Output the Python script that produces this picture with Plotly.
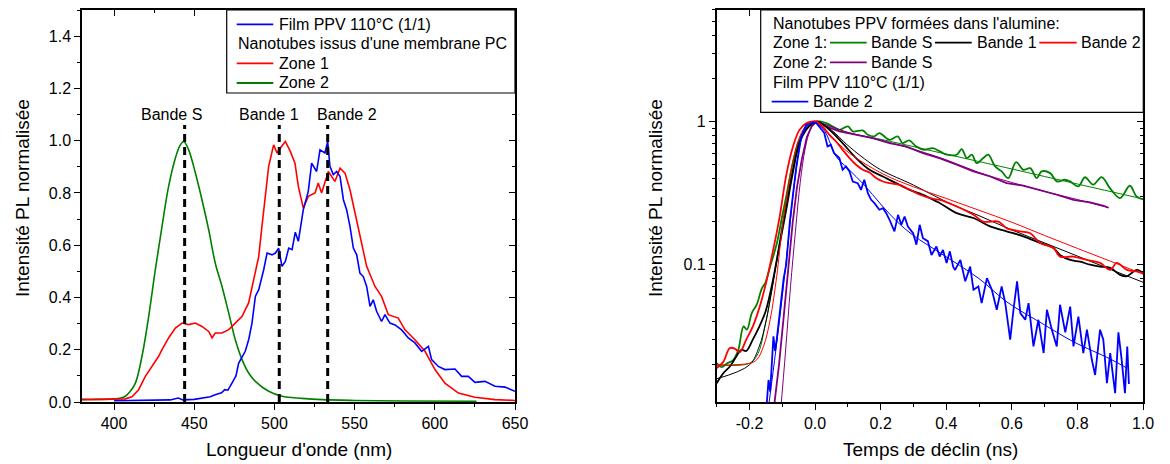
import plotly.graph_objects as go

FONT = "Liberation Sans, Arial, sans-serif"

# ===================== Left panel: PL spectra =====================
film_wl = [400, 407, 415, 425, 435, 440, 443, 450, 455, 460,
           463, 467, 469, 471, 473.5, 476, 477.7, 480, 481.8, 484,
           486, 488.1, 490.2, 493.3, 495.4, 498.5, 500.6, 502.6, 504.7, 506.8,
           508.9, 511, 513, 514.9, 517.2, 518, 521.1, 523.2, 526.3, 528.4,
           531.5, 533.2, 534.6, 536.7, 538.8, 540.9, 543, 545, 547.1, 549.2,
           551.3, 553.3, 555.4, 557.5, 559.6, 561.6, 563.7, 566.8, 568.9, 572,
           575.2, 579.3, 583.5, 587.6, 591.8, 596, 598, 602.2, 606.3, 612.6,
           616.7, 620.9, 625, 631.3, 637.5, 643.7, 650]
film_pl = [0.005, 0.006, 0.006, 0.007, 0.008, 0.015, 0.008, 0.010, 0.015, 0.020,
           0.028, 0.035, 0.047, 0.045, 0.072, 0.10, 0.149, 0.175, 0.194, 0.24,
           0.302, 0.404, 0.43, 0.506, 0.57, 0.563, 0.57, 0.589, 0.519, 0.538,
           0.589, 0.583, 0.65, 0.615, 0.717, 0.736, 0.806, 0.914, 0.882, 0.965,
           0.953, 0.997, 0.902, 0.87, 0.882, 0.863, 0.774, 0.736, 0.672, 0.589,
           0.563, 0.493, 0.48, 0.442, 0.366, 0.391, 0.347, 0.308, 0.334, 0.302,
           0.295, 0.276, 0.245, 0.226, 0.194, 0.213, 0.162, 0.136, 0.124, 0.126,
           0.098, 0.098, 0.075, 0.079, 0.06, 0.057, 0.041]

zone1_wl = [380, 390, 400, 407, 411.2, 415.3, 419.5, 423.6, 427.8, 429.9,
            434, 438.2, 442.4, 446.5, 450.7, 454.8, 459, 461.1, 463.1, 467.3,
            471.5, 475.6, 479.8, 483.9, 488.1, 490.2, 492.2, 494.3, 496.4, 499.5,
            501.6, 503.7, 506.8, 509.9, 512.8, 514.9, 518, 521.1, 525.3, 527.3,
            529.4, 533.6, 537.7, 540.9, 544, 547.1, 550.2, 554.4, 557.5, 562.7,
            566.8, 571, 577.2, 581.4, 587.6, 593.9, 600.1, 606.3, 614.7, 625,
            637.5, 650]
zone1_pl = [0.009, 0.010, 0.010, 0.012, 0.02, 0.047, 0.098, 0.136, 0.175, 0.2,
            0.245, 0.283, 0.302, 0.296, 0.302, 0.289, 0.27, 0.245, 0.264, 0.264,
            0.277, 0.302, 0.328, 0.379, 0.506, 0.557, 0.672, 0.787, 0.902, 0.984,
            0.953, 0.972, 0.997, 0.959, 0.914, 0.825, 0.742, 0.787, 0.8, 0.838,
            0.8, 0.882, 0.844, 0.895, 0.876, 0.812, 0.723, 0.608, 0.519, 0.442,
            0.404, 0.334, 0.321, 0.276, 0.238, 0.194, 0.124, 0.072, 0.034, 0.018,
            0.009, 0.006]

zone2_wl = [380, 390, 400, 404, 407, 410, 413.3, 417.4, 421.6, 425.7,
            429.9, 434, 438.2, 441, 443.4, 446.5, 450.7, 454.8, 459, 463.1,
            467.3, 471.5, 475.6, 479.8, 483.9, 488.1, 496.4, 504.7, 517.2, 530,
            550, 580, 626]
zone2_pl = [0.010, 0.010, 0.012, 0.015, 0.022, 0.04, 0.072, 0.175, 0.328, 0.506,
            0.672, 0.825, 0.933, 0.98, 0.997, 0.965, 0.876, 0.774, 0.659, 0.531,
            0.442, 0.34, 0.238, 0.162, 0.111, 0.079, 0.041, 0.022, 0.014, 0.009,
            0.006, 0.004, 0.003]

band_names = ["Bande S", "Bande 1", "Bande 2"]
band_wl = [444.0, 503.0, 533.2]
band_top = 1.06
band_label_y = 1.10

# ===================== Right panel: PL decays =====================
z1s_t = [-0.3, -0.285, -0.27, -0.249, -0.234, -0.218, -0.208, -0.193, -0.178, -0.162,
         -0.152, -0.137, -0.117, -0.1, -0.088, -0.068, -0.048, -0.027, -0.007, 0.013,
         0.034, 0.054, 0.074, 0.1, 0.115, 0.145, 0.161, 0.181, 0.196, 0.227,
         0.252, 0.267, 0.287, 0.308, 0.333, 0.359, 0.381, 0.402, 0.432, 0.447,
         0.463, 0.478, 0.493, 0.513, 0.528, 0.549, 0.569, 0.589, 0.613, 0.635,
         0.656, 0.676, 0.691, 0.717, 0.737, 0.762, 0.777, 0.803, 0.823, 0.848,
         0.874, 0.899, 0.93, 0.96, 0.98, 1.0]
z1s_v = [0.0206, 0.0193, 0.0204, 0.0217, 0.0255, 0.0371, 0.0352, 0.046, 0.0526, 0.0687,
         0.0745, 0.0973, 0.14, 0.22, 0.30, 0.512, 0.745, 0.898, 0.963, 1.0,
         0.974, 0.923, 0.875, 0.923, 0.852, 0.866, 0.807, 0.787, 0.83, 0.745,
         0.787, 0.706, 0.737, 0.67, 0.635, 0.652, 0.618, 0.586, 0.586, 0.641,
         0.555, 0.586, 0.512, 0.555, 0.586, 0.486, 0.448, 0.402, 0.52, 0.46,
         0.472, 0.402, 0.448, 0.436, 0.382, 0.392, 0.382, 0.352, 0.408, 0.362,
         0.409, 0.343, 0.292, 0.356, 0.30, 0.286]
z1s_fit_t = [-0.3, -0.2, -0.174, -0.153, -0.132, -0.111, -0.098, -0.077, -0.057, -0.037,
             -0.016, 0.004, 0.03, 0.105, 0.207, 0.409, 0.6, 0.8, 1.0]
z1s_fit_v = [0.02, 0.0205, 0.024, 0.037, 0.067, 0.134, 0.206, 0.371, 0.601, 0.807,
             0.933, 0.984, 0.95, 0.83, 0.745, 0.585, 0.466, 0.366, 0.288]

z2s_t = [-0.128, -0.11, -0.095, -0.08, -0.068, -0.055, -0.04, -0.025, -0.01, 0.005,
         0.034, 0.074, 0.125, 0.176, 0.227, 0.277, 0.329, 0.379, 0.432, 0.483,
         0.534, 0.584, 0.635, 0.686, 0.737, 0.788, 0.839, 0.88, 0.895]
z2s_v = [0.009, 0.02, 0.045, 0.1, 0.2, 0.35, 0.55, 0.78, 0.93, 1.0,
         0.923, 0.852, 0.807, 0.765, 0.706, 0.67, 0.601, 0.555, 0.499, 0.448,
         0.413, 0.371, 0.356, 0.333, 0.308, 0.284, 0.272, 0.258, 0.25]
z2s_fit_t = [-0.106, -0.09, -0.075, -0.06, -0.045, -0.03, -0.015, 0.0, 0.02, 0.1,
             0.2, 0.3, 0.4, 0.5, 0.6, 0.7, 0.8, 0.895]
z2s_fit_v = [0.009, 0.025, 0.07, 0.17, 0.38, 0.65, 0.87, 0.97, 0.97, 0.84,
             0.74, 0.64, 0.54, 0.44, 0.375, 0.325, 0.285, 0.25]

z1b1_t = [-0.3, -0.28, -0.26, -0.24, -0.225, -0.21, -0.19, -0.17, -0.15, -0.13,
          -0.109, -0.088, -0.068, -0.048, -0.027, -0.007, 0.008, 0.044, 0.084, 0.125,
          0.166, 0.207, 0.247, 0.288, 0.329, 0.37, 0.381, 0.432, 0.483, 0.534,
          0.584, 0.635, 0.686, 0.727, 0.747, 0.778, 0.808, 0.839, 0.869, 0.9,
          0.93, 0.95, 0.981, 1.0]
z1b1_v = [0.0149, 0.0175, 0.0195, 0.0229, 0.0255, 0.025, 0.03, 0.037, 0.048, 0.075,
          0.135, 0.242, 0.436, 0.706, 0.875, 0.973, 1.0, 0.875, 0.706, 0.555,
          0.46, 0.413, 0.371, 0.333, 0.308, 0.277, 0.269, 0.229, 0.212, 0.185,
          0.171, 0.158, 0.142, 0.131, 0.117, 0.108, 0.105, 0.1, 0.097, 0.095,
          0.085, 0.083, 0.092, 0.087]
z1b1_fit_t = [-0.3, -0.2, -0.17, -0.15, -0.13, -0.11, -0.09, -0.07, -0.05, -0.03,
              -0.01, 0.005, 0.05, 0.1, 0.15, 0.2, 0.3, 0.4, 0.5, 0.6,
              0.7, 0.8, 0.9, 1.0]
z1b1_fit_v = [0.016, 0.02, 0.027, 0.04, 0.07, 0.13, 0.24, 0.43, 0.68, 0.87,
              0.97, 1.0, 0.87, 0.68, 0.55, 0.46, 0.36, 0.275, 0.22, 0.175,
              0.142, 0.115, 0.093, 0.0755]

z1b2_t = [-0.3, -0.28, -0.26, -0.245, -0.23, -0.21, -0.19, -0.17, -0.15, -0.13,
          -0.109, -0.088, -0.068, -0.048, -0.027, -0.007, 0.003, 0.023, 0.044, 0.064,
          0.084, 0.105, 0.125, 0.146, 0.166, 0.186, 0.207, 0.227, 0.26, 0.28,
          0.32, 0.361, 0.381, 0.432, 0.483, 0.513, 0.559, 0.584, 0.625, 0.656,
          0.686, 0.727, 0.747, 0.788, 0.829, 0.869, 0.9, 0.92, 0.951, 0.981,
          1.0]
z1b2_v = [0.019, 0.021, 0.0262, 0.026, 0.0245, 0.03, 0.037, 0.05, 0.074, 0.12,
          0.21, 0.42, 0.66, 0.87, 0.97, 1.0, 1.0, 0.923, 0.807, 0.725,
          0.634, 0.555, 0.499, 0.46, 0.441, 0.403, 0.381, 0.371, 0.36, 0.342,
          0.308, 0.288, 0.284, 0.255, 0.223, 0.2, 0.2, 0.18, 0.171, 0.166,
          0.142, 0.131, 0.114, 0.114, 0.108, 0.103, 0.092, 0.103, 0.092, 0.0898,
          0.088]
z1b2_fit_t = [-0.3, -0.2, -0.178, -0.157, -0.137, -0.117, -0.101, -0.09, -0.07, -0.05,
              -0.03, -0.01, 0.0, 0.044, 0.105, 0.207, 0.3, 0.4, 0.5, 0.6,
              0.7, 0.8, 0.9, 1.0]
z1b2_fit_v = [0.02, 0.0205, 0.0217, 0.027, 0.0413, 0.083, 0.175, 0.26, 0.5, 0.75,
              0.92, 0.99, 1.0, 0.807, 0.6, 0.43, 0.35, 0.29, 0.24, 0.198,
              0.16, 0.13, 0.106, 0.086]

film_t = [-0.147, -0.142, -0.137, -0.132, -0.127, -0.122, -0.117, -0.106, -0.096, -0.088,
          -0.081, -0.077, -0.068, -0.057, -0.042, -0.027, -0.017, -0.005, 0.003, 0.013,
          0.028, 0.038, 0.048, 0.058, 0.074, 0.084, 0.094, 0.105, 0.115, 0.13,
          0.14, 0.15, 0.161, 0.171, 0.181, 0.196, 0.207, 0.217, 0.227, 0.242,
          0.253, 0.263, 0.273, 0.283, 0.299, 0.309, 0.319, 0.329, 0.344, 0.355,
          0.37, 0.38, 0.39, 0.401, 0.411, 0.421, 0.427, 0.443, 0.458, 0.473,
          0.483, 0.498, 0.508, 0.524, 0.539, 0.554, 0.569, 0.58, 0.595, 0.605,
          0.616, 0.626, 0.641, 0.651, 0.666, 0.681, 0.697, 0.707, 0.722, 0.737,
          0.747, 0.763, 0.778, 0.788, 0.803, 0.818, 0.829, 0.844, 0.854, 0.869,
          0.879, 0.89, 0.9, 0.915, 0.925, 0.935, 0.945, 0.952, 0.957]
film_v = [0.011, 0.0157, 0.013, 0.0195, 0.0316, 0.025, 0.03, 0.05, 0.08, 0.1,
          0.16, 0.2, 0.3, 0.485, 0.786, 0.948, 0.96, 0.99, 0.98, 0.923,
          0.83, 0.67, 0.687, 0.601, 0.555, 0.46, 0.485, 0.448, 0.381, 0.371,
          0.333, 0.392, 0.316, 0.284, 0.269, 0.242, 0.248, 0.229, 0.206, 0.171,
          0.223, 0.19, 0.217, 0.185, 0.166, 0.138, 0.19, 0.153, 0.146, 0.117,
          0.134, 0.114, 0.127, 0.103, 0.124, 0.097, 0.092, 0.108, 0.0766, 0.097,
          0.0669, 0.0706, 0.054, 0.0807, 0.0669, 0.0485, 0.0706, 0.054, 0.03, 0.0485,
          0.0766, 0.046, 0.0413, 0.054, 0.0269, 0.0413, 0.0242, 0.0485, 0.0352, 0.0269,
          0.0526, 0.0337, 0.051, 0.0269, 0.0435, 0.0242, 0.0352, 0.0217, 0.017, 0.0352,
          0.03, 0.0149, 0.0242, 0.0127, 0.0337, 0.0217, 0.0127, 0.0269, 0.0147]
film_fit_t = [-0.14, -0.12, -0.1, -0.08, -0.06, -0.04, -0.02, 0.0, 0.03, 0.064,
              0.1, 0.15, 0.2, 0.25, 0.3, 0.381, 0.5, 0.585, 0.7, 0.788,
              0.9, 0.951]
film_fit_v = [0.011, 0.025, 0.06, 0.16, 0.42, 0.78, 0.95, 0.98, 0.85, 0.57,
              0.47, 0.36, 0.265, 0.2, 0.16, 0.121, 0.08, 0.055, 0.038, 0.029,
              0.022, 0.019]

# ticks
left_x_range = [380, 650]
left_y_range = [0, 1.5]
right_x_range = [-0.3, 1.0]
right_y_range_log = [-1.958, 0.778]
right_x_tickvals = [-0.2, 0.0, 0.2, 0.4, 0.6, 0.8, 1.0]
right_x_ticktext = ["-0.2", "0.0", "0.2", "0.4", "0.6", "0.8", "1.0"]
right_x_minor = [-0.3, -0.1, 0.1, 0.3, 0.5, 0.7, 0.9]
right_y_tickvals = [0.1, 1]
right_y_ticktext = ["0.1", "1"]
right_y_minor = [0.02, 0.03, 0.04, 0.05, 0.06, 0.07, 0.08, 0.09,
                 0.2, 0.3, 0.4, 0.5, 0.6, 0.7, 0.8, 0.9, 2, 3, 4, 5, 6]

BLUE = "#0000FF"
RED = "#FF0000"
GREEN = "#008000"
PURPLE = "#800080"
BLACK = "#000000"

# ---------------- geometry (page pixels; the page body has an 8px margin) ----------------
OFF = 8                     # browser default body margin
X0, X1, Y0, Y1 = 82, 1143, 10, 402   # plot area in window pixels
W, H = 1170 - OFF, 464 - OFF
ML, MT = X0 - OFF, Y0 - OFF
MR, MB = W - (X1 - OFF), H - (Y1 - OFF)
PW, PH = X1 - X0, Y1 - Y0


def px(x):
    return (x - X0) / PW


def py(y):
    return (Y1 - y) / PH


XL_END = px(515)
XR_START = px(716.7)

fig = go.Figure()


def add_line(x, y, color, width, xa, ya, shape="linear", dash=None):
    fig.add_trace(go.Scatter(
        x=x, y=y, mode="lines",
        line=dict(color=color, width=width, shape=shape, dash=dash),
        xaxis=xa, yaxis=ya, showlegend=False, hoverinfo="skip"))


# Left panel traces
add_line(zone2_wl, zone2_pl, GREEN, 1.6, "x", "y", shape="spline")
add_line(zone1_wl, zone1_pl, RED, 1.6, "x", "y")
add_line(film_wl, film_pl, BLUE, 1.6, "x", "y")
for b in band_wl:
    add_line([b, b], [0, band_top], BLACK, 3, "x", "y", dash="8px,5px")

# Right panel traces
add_line(z1s_t, z1s_v, GREEN, 1.8, "x2", "y2", shape="spline")
add_line(z1s_fit_t, z1s_fit_v, GREEN, 1.0, "x2", "y2", shape="spline")
add_line(z2s_t, z2s_v, PURPLE, 1.8, "x2", "y2")
add_line(z2s_fit_t, z2s_fit_v, PURPLE, 1.0, "x2", "y2", shape="spline")
add_line(z1b1_t, z1b1_v, BLACK, 1.8, "x2", "y2", shape="spline")
add_line(z1b1_fit_t, z1b1_fit_v, BLACK, 1.0, "x2", "y2", shape="spline")
add_line(z1b2_t, z1b2_v, RED, 1.8, "x2", "y2", shape="spline")
add_line(z1b2_fit_t, z1b2_fit_v, RED, 1.0, "x2", "y2", shape="spline")
add_line(film_t, film_v, BLUE, 1.8, "x2", "y2")
add_line(film_fit_t, film_fit_v, BLUE, 1.0, "x2", "y2", shape="spline")

# dummy traces for mirrored (inside-tick) axes
fig.add_trace(go.Scatter(x=[], y=[], xaxis="x3", yaxis="y3", showlegend=False))
fig.add_trace(go.Scatter(x=[], y=[], xaxis="x4", yaxis="y4", showlegend=False))

tickfont = dict(family=FONT, size=16, color="black")
base = dict(showline=True, linecolor="black", linewidth=1.5, showgrid=False,
            zeroline=False, tickcolor="black", tickwidth=1.2, tickfont=tickfont)

fig.update_layout(
    width=W, height=H,
    margin=dict(l=ML, r=MR, t=MT, b=MB),
    paper_bgcolor="white", plot_bgcolor="white",
    font=dict(family=FONT, size=16, color="black"),
    xaxis=dict(domain=[0, XL_END], range=left_x_range, anchor="y",
               ticks="outside", ticklen=6, tick0=400, dtick=50,
               minor=dict(ticks="outside", ticklen=3, dtick=25, tick0=400,
                          tickcolor="black", tickwidth=1.2),
               **base),
    yaxis=dict(domain=[0, 1], range=left_y_range, anchor="x",
               ticks="outside", ticklen=6, tick0=0, dtick=0.2, tickformat=".1f",
               minor=dict(ticks="outside", ticklen=3, dtick=0.1, tick0=0,
                          tickcolor="black", tickwidth=1.2),
               **base),
    xaxis3=dict(overlaying="x", side="top", anchor="y", range=left_x_range,
                ticks="inside", ticklen=6, tick0=400, dtick=50, showticklabels=False,
                minor=dict(ticks="inside", ticklen=3, dtick=25, tick0=400,
                           tickcolor="black", tickwidth=1.2),
                **base),
    yaxis3=dict(overlaying="y", side="right", anchor="x", range=left_y_range,
                ticks="inside", ticklen=6, tick0=0, dtick=0.2, showticklabels=False,
                minor=dict(ticks="inside", ticklen=3, dtick=0.1, tick0=0,
                           tickcolor="black", tickwidth=1.2),
                **base),
    xaxis2=dict(domain=[XR_START, 1], range=right_x_range, anchor="y2",
                ticks="outside", ticklen=6, tickmode="array",
                tickvals=right_x_tickvals, ticktext=right_x_ticktext,
                minor=dict(ticks="outside", ticklen=3, tickmode="array",
                           tickvals=right_x_minor, tickcolor="black", tickwidth=1.2),
                **base),
    yaxis2=dict(domain=[0, 1], type="log", range=right_y_range_log, anchor="x2",
                ticks="outside", ticklen=6, tickmode="array",
                tickvals=right_y_tickvals, ticktext=right_y_ticktext,
                minor=dict(ticks="outside", ticklen=3, tickmode="array",
                           tickvals=right_y_minor, tickcolor="black", tickwidth=1.2),
                **base),
    xaxis4=dict(overlaying="x2", side="top", anchor="y2", range=right_x_range,
                ticks="inside", ticklen=6, tickmode="array",
                tickvals=right_x_tickvals, showticklabels=False,
                minor=dict(ticks="inside", ticklen=3, tickmode="array",
                           tickvals=right_x_minor, tickcolor="black", tickwidth=1.2),
                **base),
    yaxis4=dict(overlaying="y2", side="right", anchor="x2", type="log",
                range=right_y_range_log,
                ticks="inside", ticklen=6, tickmode="array",
                tickvals=right_y_tickvals, showticklabels=False,
                minor=dict(ticks="inside", ticklen=3, tickmode="array",
                           tickvals=right_y_minor, tickcolor="black", tickwidth=1.2),
                **base),
)

shapes = []
annotations = []


def txt(x, y, s, size=16, xanchor="left", angle=0):
    annotations.append(dict(x=px(x), y=py(y), xref="paper", yref="paper",
                            text=s, showarrow=False, xanchor=xanchor,
                            yanchor="middle", textangle=angle,
                            font=dict(family=FONT, size=size, color="black")))


def seg(x0, x1, y, color):
    shapes.append(dict(type="line", xref="paper", yref="paper",
                       x0=px(x0), x1=px(x1), y0=py(y), y1=py(y),
                       line=dict(color=color, width=1.8), layer="above"))


def box(x0, x1, y0, y1):
    shapes.append(dict(type="rect", xref="paper", yref="paper",
                       x0=px(x0), x1=px(x1), y0=py(y1), y1=py(y0),
                       fillcolor="white", line=dict(color="black", width=1.2),
                       layer="above"))


# Left legend
box(226.7, 515, 10, 93)
seg(236.7, 273.3, 24.3, BLUE)
txt(276.5, 24.3, "Film PPV 110°C (1/1)")
txt(235.5, 43.8, "Nanotubes issus d'une membrane PC")
seg(236.7, 273.3, 63.3, RED)
txt(276.5, 63.3, "Zone 1")
seg(236.7, 273.3, 83.0, GREEN)
txt(276.5, 83.0, "Zone 2")

# Right legend
box(760.7, 1143.3, 10, 112.3)
txt(771, 23.3, "Nanotubes PPV formées dans l'alumine:")
txt(771, 42.7, "Zone 1:")
seg(830, 866.7, 42.7, GREEN)
txt(868.5, 42.7, "Bande S")
seg(935, 971.7, 42.7, BLACK)
txt(975, 42.7, "Bande 1")
seg(1039.3, 1076.7, 42.7, RED)
txt(1078.5, 42.7, "Bande 2")
txt(771, 62.3, "Zone 2:")
seg(830, 866.7, 62.3, PURPLE)
txt(868.5, 62.3, "Bande S")
txt(771, 82.3, "Film PPV 110°C (1/1)")
seg(771.7, 808.3, 101.7, BLUE)
txt(810.5, 101.7, "Bande 2")

# Axis titles
txt(298.5, 450, "Longueur d'onde (nm)", size=19, xanchor="center")
txt(22, 198, "Intensité PL normalisée", size=19, xanchor="center", angle=-90)
txt(930, 449, "Temps de déclin (ns)", size=19, xanchor="center")
txt(655, 198, "Intensité PL normalisée", size=19, xanchor="center", angle=-90)

# Band labels (data coordinates, offset in pixels)
label_shift = [-13, -10, 19]
for name, b, s in zip(band_names, band_wl, label_shift):
    annotations.append(dict(x=b, y=band_label_y, xref="x", yref="y", text=name,
                            showarrow=False, xshift=s, xanchor="center",
                            yanchor="middle",
                            font=dict(family=FONT, size=16, color="black")))

fig.update_layout(shapes=shapes, annotations=annotations)

fig.write_html("out.html")
